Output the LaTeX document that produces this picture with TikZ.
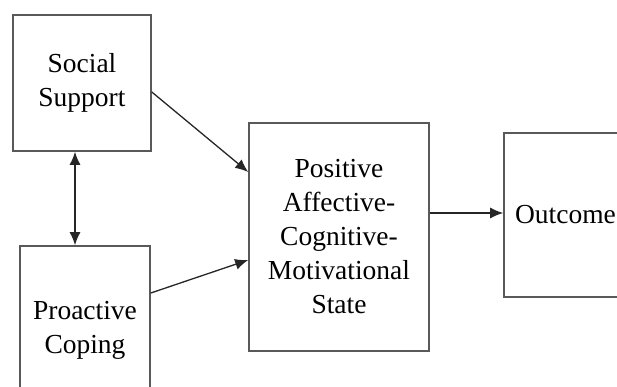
\documentclass[tikz,border=0pt]{standalone}
\usepackage{fontspec}
\setmainfont{Liberation Serif}
\usetikzlibrary{arrows.meta}
\tikzset{
  box/.style={draw=black!65, line width=1.6pt, rectangle, inner sep=0pt, align=center,
    font=\fontsize{27.5}{34}\selectfont, text=black},
  tip/.style={Latex[length=13pt,width=11pt]},
  arr/.style={draw=black!85, line width=1.3pt, -{Latex[length=13pt,width=11pt]}},
  darr/.style={draw=black!85, line width=1.3pt, {Latex[length=13pt,width=11pt]}-{Latex[length=13pt,width=11pt]}}
}
\begin{document}
\begin{tikzpicture}[x=1pt,y=-1pt]
\useasboundingbox (0,0) rectangle (617,387);
\fill[white] (0,0) rectangle (617,387);
\clip (0,0) rectangle (617,387);
\node[box, minimum width=138pt, minimum height=136pt] (ss) at (82,83) {Social\\Support};
\node[box, minimum width=130pt, minimum height=168pt] (pc) at (85,330) {Proactive\\Coping};
\node[box, minimum width=180pt, minimum height=228pt] (mid) at (339,237) {Positive\\Affective-\\Cognitive-\\Motivational\\State};
\node[box, minimum width=123pt, minimum height=164pt] (out) at (565.5,215) {Outcome};
\coordinate (oin) at ([yshift=2pt]out.west);
\draw[arr] ([yshift=-9pt]ss.east) -- ([yshift=65pt]mid.west);
\draw[arr] ([yshift=37pt]pc.east) -- ([yshift=-23pt]mid.west);
\draw[arr] (oin -| mid.east) -- (oin);
\draw[darr] (ss.south -| 75,0) -- (pc.north -| 75,0);
\end{tikzpicture}
\end{document}
